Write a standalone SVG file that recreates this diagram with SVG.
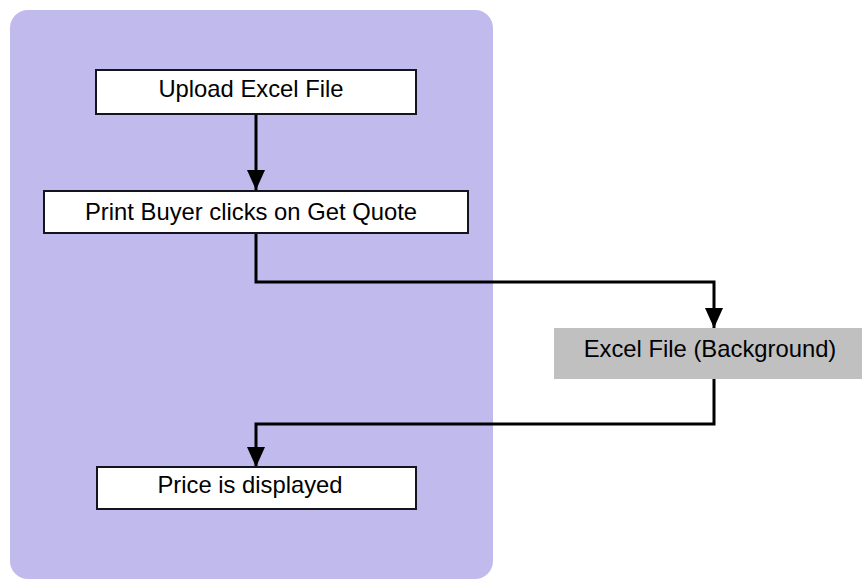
<svg xmlns="http://www.w3.org/2000/svg" width="864" height="582" viewBox="0 0 864 582">
  <style>
    .box { fill: #ffffff; stroke: #141420; stroke-width: 2; }
    .gray { fill: #c0c0c0; }
    .lbl { font-family: "Liberation Sans", Arial, sans-serif; font-size: 23.8px; fill: #000; text-anchor: middle; }
    .conn { fill: none; stroke: #000; stroke-width: 3; }
  </style>
  <defs>
    <marker id="arrow" markerUnits="userSpaceOnUse" markerWidth="20" markerHeight="20" viewBox="0 0 20 20" refX="20" refY="10" orient="auto">
      <path d="M0,1 L20,10 L0,19 Z" fill="#000"/>
    </marker>
  </defs>
  <rect id="lane" x="10" y="10" width="483" height="569" rx="18" ry="18" fill="#c0bbec"/>
  <g id="connectors">
    <path class="conn" d="M256,114 L256,190" marker-end="url(#arrow)"/>
    <path class="conn" d="M256,233 L256,282 L714,282 L714,328" marker-end="url(#arrow)"/>
    <path class="conn" d="M714,379 L714,424 L256,424 L256,467" marker-end="url(#arrow)"/>
  </g>
  <g id="upload">
    <rect class="box" x="96" y="70" width="320" height="44"/>
    <text class="lbl" x="251" y="97">Upload Excel File</text>
  </g>
  <g id="print">
    <rect class="box" x="44" y="191" width="424" height="42"/>
    <text class="lbl" x="251" y="220">Print Buyer clicks on Get Quote</text>
  </g>
  <g id="excel">
    <rect class="gray" x="554" y="328" width="308" height="51"/>
    <text class="lbl" x="710" y="357">Excel File (Background)</text>
  </g>
  <g id="price">
    <rect class="box" x="97" y="467" width="319" height="42"/>
    <text class="lbl" x="250" y="493">Price is displayed</text>
  </g>
</svg>
